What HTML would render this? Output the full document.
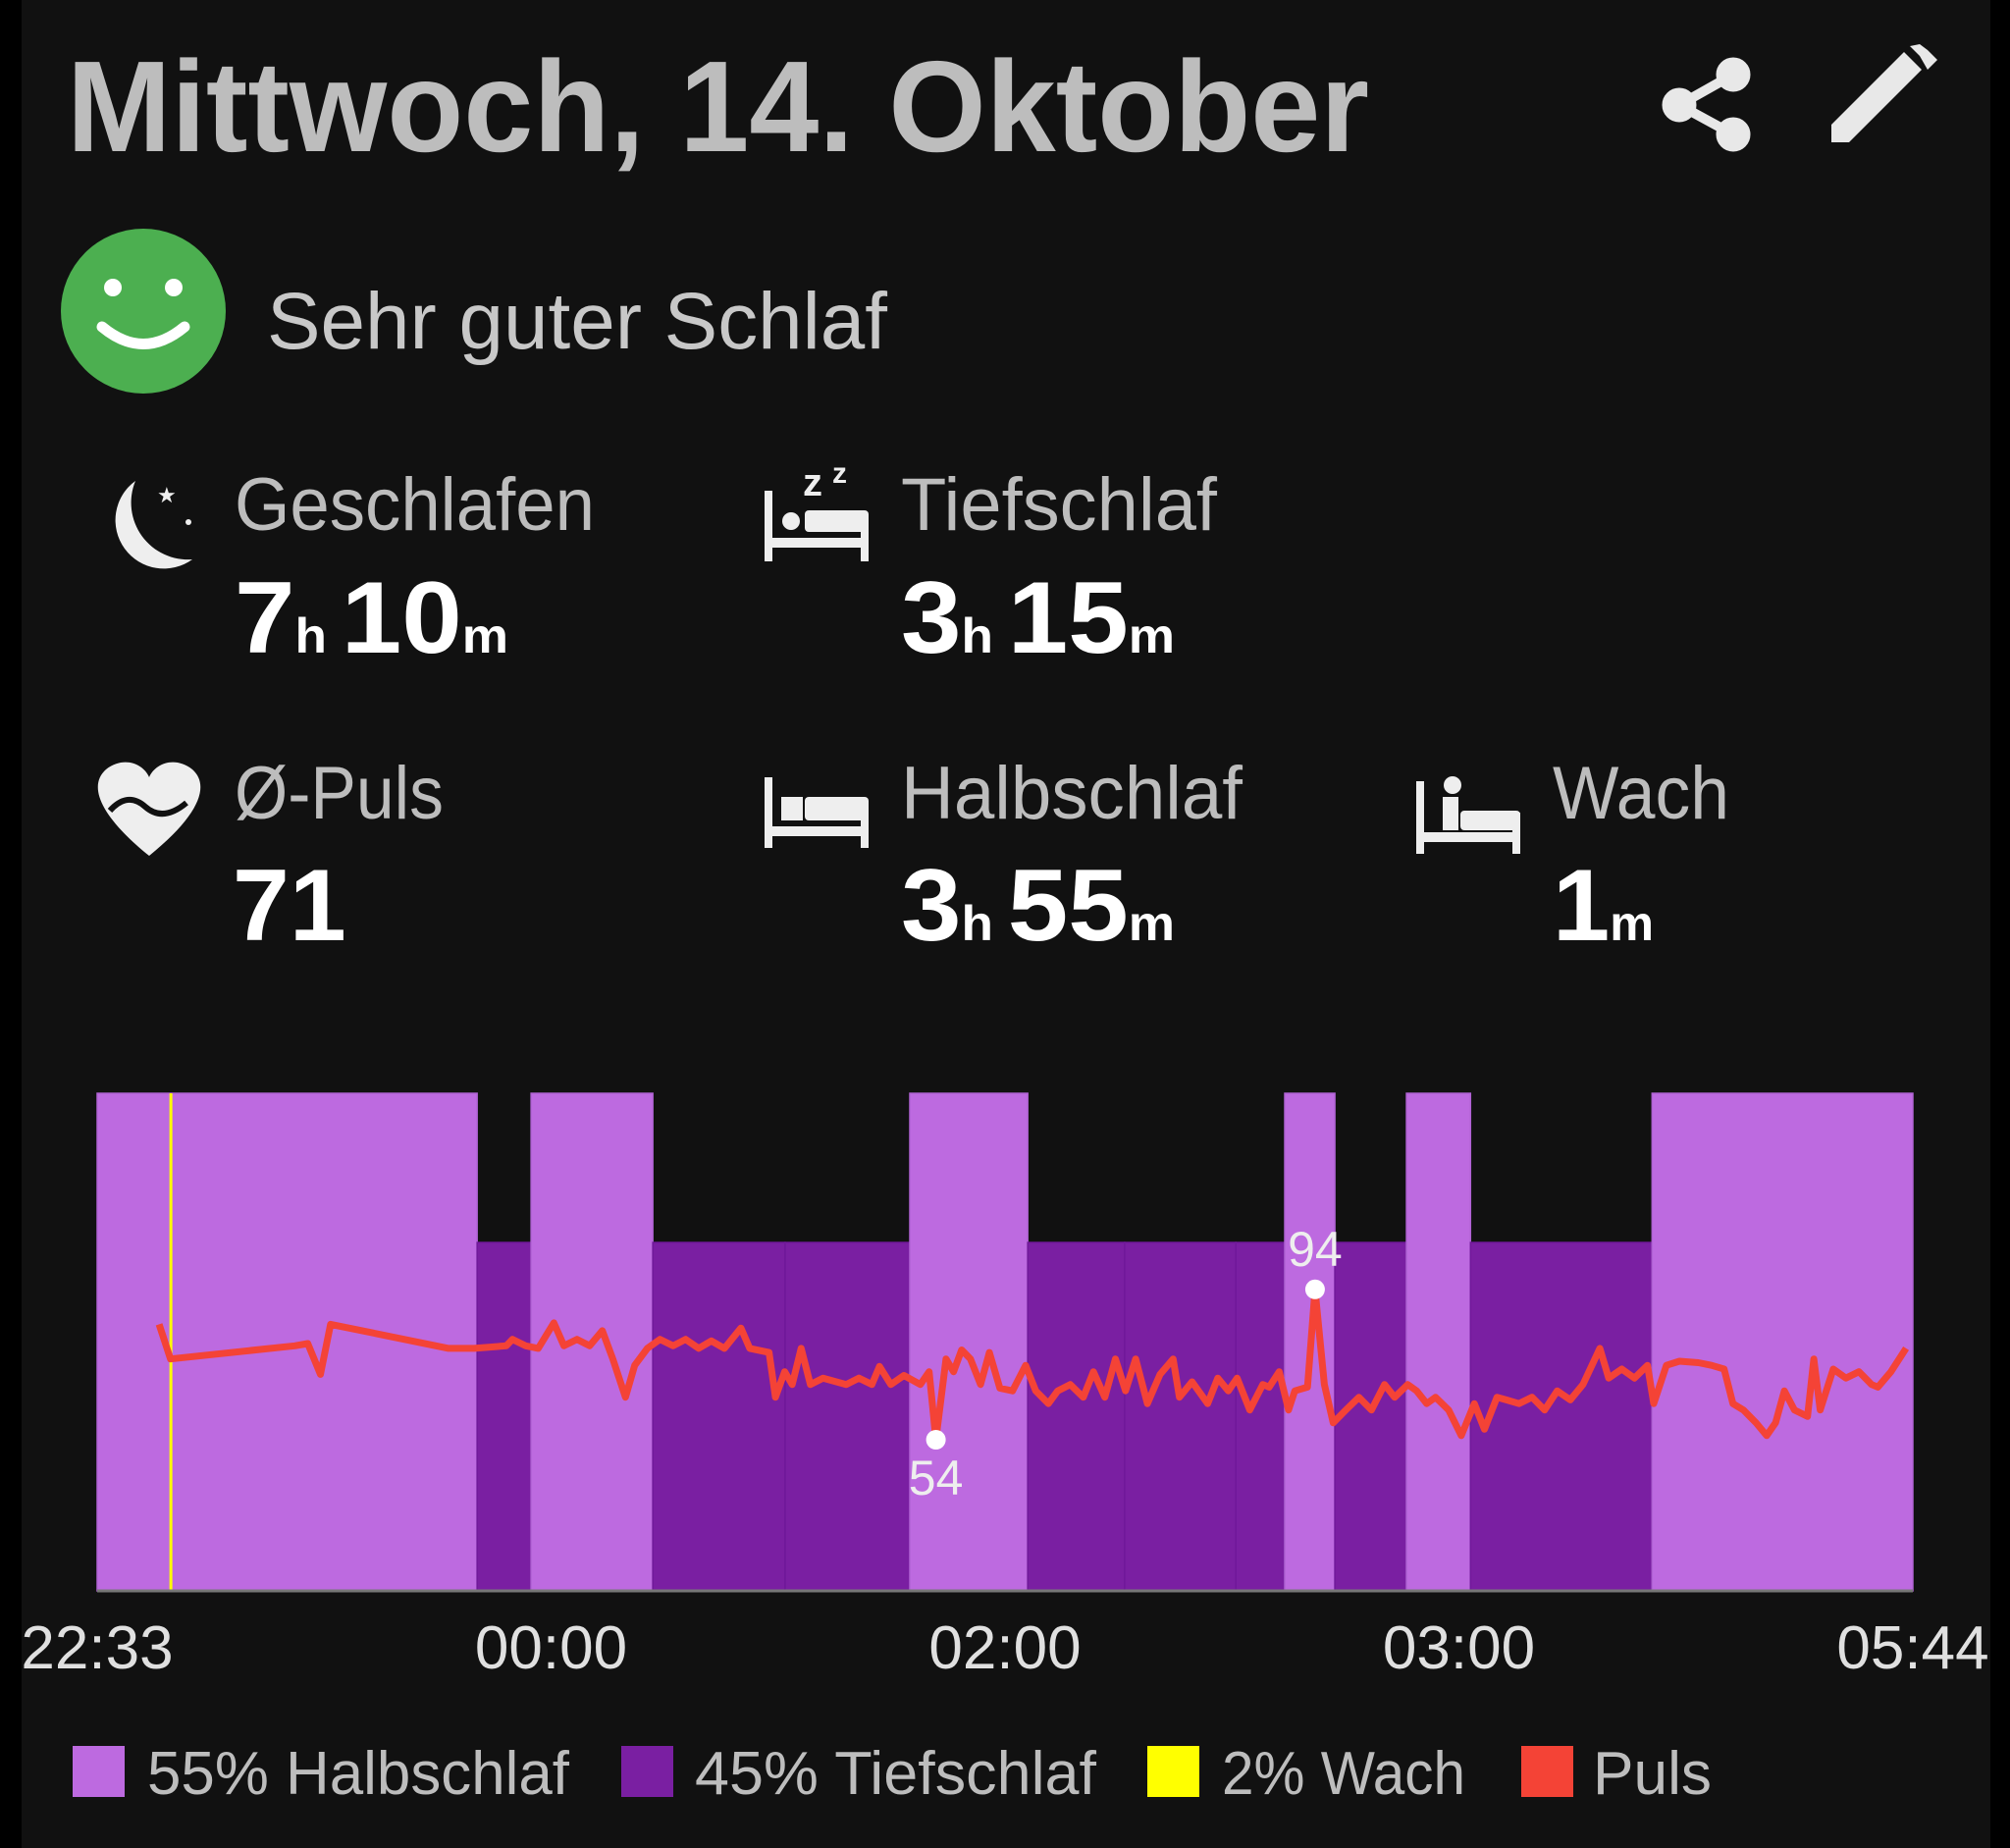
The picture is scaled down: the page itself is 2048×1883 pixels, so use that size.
<!DOCTYPE html>
<html><head><meta charset="utf-8"><style>
html,body{margin:0;padding:0;background:#111;}
svg{display:block;}
text{font-family:"Liberation Sans",sans-serif;}
</style></head><body>
<svg id="root" width="2048" height="1883" viewBox="0 0 2048 1883" xmlns="http://www.w3.org/2000/svg">
<rect x="0" y="0" width="2048" height="1883" fill="#111"/>
<rect x="0" y="0" width="22" height="1883" fill="#000"/>
<rect x="2028" y="0" width="20" height="1883" fill="#000"/>

<text x="68" y="154" font-size="132" font-weight="bold" fill="#bdbdbd" textLength="1327" lengthAdjust="spacingAndGlyphs">Mittwoch, 14. Oktober</text>

<g fill="#e8e8e8" stroke="#e8e8e8">
<line x1="1766" y1="76" x2="1711" y2="107" stroke-width="10"/>
<line x1="1766" y1="137" x2="1711" y2="107" stroke-width="10"/>
<circle cx="1766" cy="76" r="17"/><circle cx="1711" cy="107" r="17"/><circle cx="1766" cy="137" r="17"/>
</g>
<g>
<polygon points="1866,145 1866,127 1940,53 1958,71 1884,145" fill="#e8e8e8"/>
<polygon points="1946,47 1956,57 1964,71 1974,61 1964,51 1956,45" fill="#e8e8e8"/>
</g>

<g>
<circle cx="146" cy="317" r="84" fill="#4caf50"/>
<circle cx="115" cy="293" r="9" fill="#fff"/><circle cx="177" cy="293" r="9" fill="#fff"/>
<path d="M104 333 Q146 368 188 333" stroke="#fff" stroke-width="11" fill="none" stroke-linecap="round"/>
</g>
<text x="272" y="355" font-size="82" fill="#c8c8c8" textLength="632" lengthAdjust="spacingAndGlyphs">Sehr guter Schlaf</text>

<g>
<path d="M138 490 A48 48 0 1 0 196 570 A58 58 0 0 1 138 490Z" fill="#eee"/>
<text x="160" y="512" font-size="22" fill="#eee">★</text><circle cx="192" cy="532" r="3" fill="#eee"/>
</g>
<text x="239" y="540" font-size="76" fill="#bdbdbd" textLength="367" lengthAdjust="spacingAndGlyphs">Geschlafen</text>
<text x="239" y="665" fill="#fff" font-weight="bold" textLength="279" lengthAdjust="spacingAndGlyphs"><tspan font-size="104">7</tspan><tspan font-size="50">h </tspan><tspan font-size="104">10</tspan><tspan font-size="50">m</tspan></text>

<g fill="#eee">
<rect x="779" y="500" width="8" height="72"/><rect x="779" y="548" width="106" height="10"/><rect x="877" y="530" width="8" height="42"/>
<circle cx="806" cy="531" r="9"/><rect x="820" y="520" width="65" height="22" rx="4"/>
<text x="818" y="505" font-size="40" font-weight="bold">z</text><text x="848" y="492" font-size="30" font-weight="bold">z</text>
</g>
<text x="918" y="540" font-size="76" fill="#bdbdbd" textLength="322" lengthAdjust="spacingAndGlyphs">Tiefschlaf</text>
<text x="918" y="665" fill="#fff" font-weight="bold" textLength="279" lengthAdjust="spacingAndGlyphs"><tspan font-size="104">3</tspan><tspan font-size="50">h </tspan><tspan font-size="104">15</tspan><tspan font-size="50">m</tspan></text>

<g>
<path d="M152 872 C100 830 90 800 108 784 C126 770 146 778 152 792 C158 778 178 770 196 784 C214 800 204 830 152 872Z" fill="#eee"/>
<path d="M112 826 Q130 806 148 822 T190 818" stroke="#111" stroke-width="6" fill="none"/>
</g>
<text x="239" y="834" font-size="76" fill="#bdbdbd" textLength="213" lengthAdjust="spacingAndGlyphs">Ø-Puls</text>
<text x="237" y="958" font-size="104" fill="#fff" font-weight="bold">71</text>

<g fill="#eee">
<rect x="779" y="792" width="8" height="72"/><rect x="779" y="842" width="106" height="10"/><rect x="877" y="822" width="8" height="42"/>
<rect x="796" y="812" width="22" height="24"/><rect x="820" y="812" width="65" height="24" rx="4"/>
</g>
<text x="918" y="834" font-size="76" fill="#bdbdbd" textLength="348" lengthAdjust="spacingAndGlyphs">Halbschlaf</text>
<text x="918" y="958" fill="#fff" font-weight="bold" textLength="279" lengthAdjust="spacingAndGlyphs"><tspan font-size="104">3</tspan><tspan font-size="50">h </tspan><tspan font-size="104">55</tspan><tspan font-size="50">m</tspan></text>

<g fill="#eee">
<rect x="1443" y="796" width="8" height="74"/><rect x="1443" y="848" width="106" height="10"/><rect x="1541" y="828" width="8" height="42"/>
<circle cx="1480" cy="800" r="9"/><rect x="1470" y="812" width="16" height="34"/><rect x="1488" y="826" width="61" height="20" rx="4"/>
</g>
<text x="1582" y="834" font-size="76" fill="#bdbdbd" textLength="180" lengthAdjust="spacingAndGlyphs">Wach</text>
<text x="1582" y="958" fill="#fff" font-weight="bold" textLength="103" lengthAdjust="spacingAndGlyphs"><tspan font-size="104">1</tspan><tspan font-size="50">m</tspan></text>

<g id="chart"></g>

<g>
<g><rect x="74" y="1779" width="53" height="52" fill="#bd6ae0"/><text x="150" y="1828" font-size="62" fill="#bdbdbd" textLength="430" lengthAdjust="spacingAndGlyphs">55% Halbschlaf</text></g>
<g><rect x="633" y="1779" width="53" height="52" fill="#7a1fa2"/><text x="708" y="1828" font-size="62" fill="#bdbdbd" textLength="409" lengthAdjust="spacingAndGlyphs">45% Tiefschlaf</text></g>
<g><rect x="1169" y="1779" width="53" height="52" fill="#ffff00"/><text x="1245" y="1828" font-size="62" fill="#bdbdbd" textLength="248" lengthAdjust="spacingAndGlyphs">2% Wach</text></g>
<g><rect x="1550" y="1779" width="53" height="52" fill="#f44336"/><text x="1623" y="1828" font-size="62" fill="#bdbdbd" textLength="121" lengthAdjust="spacingAndGlyphs">Puls</text></g>
</g>
</svg>
<script>
// stage segments: minutes since 22:33
const segStart = [0, 90.2, 103, 131.9, 163.3, 192.9, 220.9, 243.9, 270.3, 281.9, 293.8, 310.8, 326, 369.1];
const segEnd   = [90.2, 103, 131.9, 163.3, 192.9, 220.9, 243.9, 270.3, 281.9, 293.8, 310.8, 326, 369.1, 431];
const segStage = ['light','deep','light','deep','deep','light','deep','deep','deep','light','deep','light','deep','light'];
const wakeTimes = [17.5];
// pulse series
const pulseMin = [14.7,17.4,46.9,50,53,55.4,83.4,89.5,97.1,98.6,101.7,104.7,108.4,110.8,113.9,116.9,119.9,122.4,125.4,127.6,130.6,133.6,136.7,139.7,142.8,145.8,148.9,152.8,154.9,159.5,161,163.2,165,167.1,169.3,172.3,177.8,180.8,183.9,185.7,188.4,191.5,195.4,197.5,199.1,201.5,203.3,205.2,207.3,209.7,211.8,214.3,217.3,220.4,222.8,225.8,228,231,234.1,236.5,239.2,241.7,244.1,246.5,249.3,252.3,255.4,256.9,259.9,263.6,266,268.5,270.6,273.6,276.7,278.2,280.6,282.8,284.3,287.3,289.1,291.3,293.4,296.4,299.5,302.5,305.6,308,311.1,313.2,315.6,317.7,320.8,323.8,326.9,329.3,332.3,334.5,337.5,340.6,343.6,346.6,349.7,352.7,356.7,358.8,361.9,364.9,368,369.5,372.5,375.6,380.1,383.2,386.2,388.3,390.8,393.8,396.3,398.4,400.5,402.9,406,407.5,409,412.1,415.1,418.2,421.2,422.7,425.8,429.4];
const pulseBpm = [84.7,75.5,79,79.6,71.4,84.7,78.3,78.3,79,80.7,79,78.3,85.1,79,80.7,79,83,75.5,65.3,73.8,78.3,80.7,79,80.7,78.3,80.3,78.3,83.7,78.3,77.2,65.3,72.1,68.7,78.3,68.7,70.4,68.7,70.4,68.7,73.5,68.7,71.1,68.7,72.1,54,75.5,72.1,77.9,75.5,68.7,77.2,67.7,67,73.8,67,63.6,67,68.7,65.3,72.1,65.3,75.5,67,75.5,63.6,71.4,75.5,65.3,69.4,63.6,70.4,67,70.4,61.9,68.7,68,72.1,61.9,67,68,94,68.7,58.5,61.9,65.3,61.9,68.7,65.3,68.7,67,63.6,65.3,61.9,55.1,63.6,56.8,65.3,64.6,63.6,65.3,61.9,67,64.6,68.7,78.3,70.4,72.8,70.4,73.8,63.6,73.8,74.9,74.5,73.8,72.8,63.6,61.9,58.5,55.1,58.5,67,61.9,60.2,75.5,61.9,72.8,70.4,72.1,68.7,68,72.1,78.3];
const tickLabels = ['22:33','00:00','02:00','03:00','05:44'];

const NS='http://www.w3.org/2000/svg';
const chart=document.getElementById('chart');
const X0=99,X1=1949,YT=1114,YD=1266,YB=1621,TMAX=431;
const xs=t=>X0+t/TMAX*(X1-X0);
const ys=v=>1467-(v-54)*3.83;
function mk(tag,attrs){const e=document.createElementNS(NS,tag);for(const k in attrs)e.setAttribute(k,attrs[k]);chart.appendChild(e);return e;}
for(let i=0;i<segStart.length;i++){
  const light=segStage[i]==='light';
  const r=mk('rect',{x:xs(segStart[i]),y:light?YT:YD,width:xs(segEnd[i])-xs(segStart[i]),height:YB-(light?YT:YD),fill:light?'#bd6ae0':'#7a1fa2',stroke:light?'#b062d4':'#70199a','stroke-width':1.5});
  
  
}
wakeTimes.forEach(t=>{
  const r=mk('rect',{x:xs(t)-1.5,y:YT,width:3,height:YB-YT,fill:'#ffff00'});
  
  
});
const ax=mk('line',{x1:X0,y1:YB,x2:X1,y2:YB,stroke:'#777','stroke-width':3});


const pts=pulseMin.map((t,i)=>xs(t).toFixed(1)+','+ys(pulseBpm[i]).toFixed(1)).join(' ');
const pl=mk('polyline',{points:pts,fill:'none',stroke:'#f44336','stroke-width':7,'stroke-linejoin':'round'});


let iMin=0,iMax=0;pulseBpm.forEach((v,i)=>{if(v<pulseBpm[iMin])iMin=i;if(v>pulseBpm[iMax])iMax=i;});
[[iMin,1],[iMax,-1]].forEach(([i,d])=>{
  const c=mk('circle',{cx:xs(pulseMin[i]),cy:ys(pulseBpm[i]),r:10,fill:'#fff'});
  
  
  const tx=mk('text',{x:xs(pulseMin[i]),y:ys(pulseBpm[i])+(d>0?56:-24),'font-size':50,fill:'#eee','text-anchor':'middle'});
  tx.textContent=String(Math.round(pulseBpm[i]));
  
  
});
tickLabels.forEach((s,i)=>{
  const tx=mk('text',{x:X0+i*(X1-X0)/(tickLabels.length-1),y:1700,'font-size':62,fill:'#e0e0e0','text-anchor':'middle'});
  tx.textContent=s;
  
  
});
</script>
</body></html>
